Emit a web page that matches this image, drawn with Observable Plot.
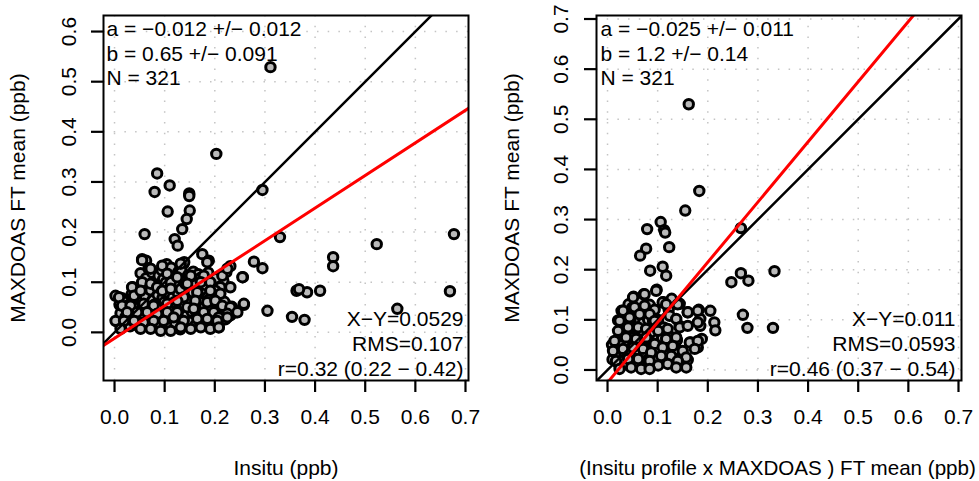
<!DOCTYPE html>
<html><head><meta charset="utf-8">
<script src="https://cdn.jsdelivr.net/npm/d3@7"></script>
<script src="https://cdn.jsdelivr.net/npm/@observablehq/plot@0.6"></script>
<style>
body{margin:0;background:#fff;}
#wrap{display:flex;width:979px;height:481px;overflow:hidden;}
#wrap svg{font-family:"Liberation Sans",Arial,Helvetica,sans-serif;}
</style></head><body><div id="wrap"></div>
<script>
// ---------- tick labels ----------
const xTicks = [0, 0.1, 0.2, 0.3, 0.4, 0.5, 0.6, 0.7];
const yTicksLeft = [0, 0.1, 0.2, 0.3, 0.4, 0.5, 0.6];
const yTicksRight = [0, 0.1, 0.2, 0.3, 0.4, 0.5, 0.6, 0.7];

// ---------- texts ----------
const leftStatsTop = ["a = \u22120.012 +/\u2212 0.012", "b = 0.65 +/\u2212 0.091", "N = 321"];
const leftStatsBottom = ["X\u2212Y=0.0529", "RMS=0.107", "r=0.32 (0.22 \u2212 0.42)"];
const rightStatsTop = ["a = \u22120.025 +/\u2212 0.011", "b = 1.2 +/\u2212 0.14", "N = 321"];
const rightStatsBottom = ["X\u2212Y=0.011", "RMS=0.0593", "r=0.46 (0.37 \u2212 0.54)"];
const leftXLabel = "Insitu (ppb)";
const rightXLabel = "(Insitu profile x MAXDOAS ) FT mean (ppb)";
const yLabel = "MAXDOAS FT mean (ppb)";

// ---------- fit parameters ----------
const leftFit = {a: -0.012, b: 0.65};
const rightFit = {a: -0.025, b: 1.2};

// ---------- points: [x, y] ----------
const leftPoints = [
  [0.311,0.529],[0.203,0.356],[0.085,0.317],[0.080,0.280],[0.110,0.293],[0.149,0.277],[0.149,0.272],
  [0.106,0.241],[0.150,0.243],[0.144,0.226],[0.135,0.206],[0.120,0.186],[0.126,0.173],[0.060,0.196],
  [0.295,0.284],[0.330,0.190],[0.278,0.141],[0.295,0.128],[0.231,0.132],[0.256,0.110],[0.436,0.150],
  [0.436,0.132],[0.523,0.176],[0.677,0.196],[0.669,0.082],[0.363,0.083],[0.384,0.080],[0.410,0.083],
  [0.368,0.086],[0.305,0.043],[0.354,0.031],[0.379,0.025],[0.564,0.047],[0.258,0.055],[0.175,0.156],
  [0.188,0.143],[0.137,0.136],[0.132,0.130],[0.055,0.146],[0.063,0.143],[0.098,0.130],[0.002,0.073],
  [0.005,0.022],[0.217,0.103],[0.208,0.010],[0.225,0.053],
  [0.008,0.022],[0.012,0.038],[0.010,0.055],[0.015,0.068],
  [0.020,0.016],[0.022,0.031],[0.024,0.047],[0.019,0.061],
  [0.031,0.012],[0.029,0.026],[0.033,0.041],[0.030,0.056],[0.034,0.076],[0.036,0.090],
  [0.041,0.017],[0.044,0.031],[0.039,0.050],[0.043,0.069],[0.046,0.086],
  [0.050,0.010],[0.053,0.024],[0.049,0.040],[0.055,0.061],[0.051,0.080],[0.056,0.099],[0.052,0.118],
  [0.062,0.016],[0.059,0.032],[0.064,0.050],[0.061,0.071],[0.066,0.090],[0.063,0.108],[0.068,0.128],
  [0.071,0.009],[0.074,0.026],[0.069,0.045],[0.076,0.065],[0.072,0.084],[0.078,0.101],[0.075,0.119],
  [0.081,0.015],[0.084,0.036],[0.079,0.055],[0.086,0.075],[0.083,0.094],[0.088,0.113],
  [0.091,0.011],[0.094,0.030],[0.089,0.050],[0.096,0.069],[0.092,0.089],[0.097,0.106],[0.094,0.124],
  [0.101,0.020],[0.104,0.041],[0.099,0.060],[0.106,0.080],[0.102,0.099],[0.108,0.118],[0.104,0.136],
  [0.111,0.010],[0.114,0.029],[0.109,0.049],[0.116,0.070],[0.112,0.090],[0.117,0.109],[0.113,0.129],
  [0.121,0.019],[0.124,0.040],[0.119,0.060],[0.126,0.079],[0.122,0.101],[0.127,0.120],
  [0.131,0.006],[0.134,0.026],[0.129,0.046],[0.136,0.064],[0.132,0.086],[0.137,0.104],[0.133,0.124],[0.139,0.140],
  [0.141,0.015],[0.144,0.034],[0.139,0.055],[0.146,0.075],[0.142,0.096],[0.147,0.114],
  [0.151,0.021],[0.154,0.041],[0.149,0.061],[0.156,0.080],[0.152,0.100],[0.157,0.121],
  [0.161,0.014],[0.164,0.035],[0.159,0.054],[0.166,0.076],[0.162,0.095],[0.167,0.116],
  [0.171,0.020],[0.174,0.040],[0.169,0.061],[0.176,0.086],[0.172,0.109],
  [0.181,0.016],[0.184,0.031],[0.179,0.050],[0.186,0.071],[0.182,0.094],[0.187,0.119],
  [0.191,0.026],[0.194,0.045],[0.189,0.066],[0.196,0.090],
  [0.201,0.021],[0.204,0.040],[0.199,0.059],[0.206,0.081],[0.202,0.108],
  [0.211,0.030],[0.214,0.050],[0.209,0.071],
  [0.221,0.026],[0.224,0.045],[0.219,0.061],[0.223,0.120],
  [0.231,0.034],[0.234,0.051],[0.242,0.040],
  [0.055,0.144],[0.072,0.127],[0.095,0.133],[0.105,0.117],[0.132,0.137],[0.152,0.113],[0.185,0.140],
  [0.178,0.113],[0.215,0.113],[0.225,0.127],[0.255,0.110],
  [0.035,0.090],[0.055,0.100],[0.072,0.097],[0.085,0.090],[0.112,0.100],[0.125,0.110],[0.145,0.097],
  [0.172,0.100],[0.191,0.100],[0.211,0.090],[0.201,0.083],
  [0.009,0.070],[0.039,0.073],[0.052,0.083],[0.095,0.083],[0.112,0.087],[0.138,0.070],[0.165,0.080],
  [0.191,0.083],[0.211,0.077],[0.231,0.090],[0.258,0.057],
  [0.015,0.053],[0.032,0.053],[0.058,0.057],[0.078,0.053],[0.105,0.057],[0.125,0.063],[0.145,0.050],
  [0.161,0.063],[0.185,0.060],[0.201,0.063],[0.215,0.053],[0.231,0.050],[0.245,0.040],
  [0.002,0.023],[0.025,0.040],[0.045,0.040],[0.065,0.040],[0.085,0.037],[0.105,0.040],[0.125,0.040],
  [0.158,0.047],[0.178,0.040],[0.198,0.040],[0.225,0.037],[0.208,0.030],
  [0.019,0.023],[0.039,0.023],[0.058,0.020],[0.078,0.023],[0.098,0.023],[0.118,0.030],[0.138,0.023],
  [0.165,0.027],[0.185,0.027],[0.205,0.023],[0.225,0.030],
  [0.012,0.007],[0.052,0.007],[0.072,0.007],[0.092,0.003],[0.112,0.003],[0.132,0.010],[0.152,0.007],
  [0.172,0.010],[0.191,0.007],[0.208,0.010]
];

const rightPoints = [
  [0.162,0.530],[0.183,0.357],[0.155,0.318],[0.079,0.281],[0.106,0.295],[0.113,0.279],[0.115,0.274],
  [0.123,0.245],[0.077,0.242],[0.065,0.228],[0.085,0.198],[0.110,0.206],[0.117,0.188],[0.266,0.283],
  [0.266,0.193],[0.281,0.178],[0.247,0.175],[0.333,0.197],[0.270,0.110],[0.279,0.084],[0.330,0.084],
  [0.098,0.160],[0.144,0.132],[0.128,0.142],[0.160,0.115],[0.182,0.120],[0.205,0.118],[0.213,0.095],
  [0.215,0.079],[0.185,0.102],[0.185,0.088],[0.144,0.088],[0.188,0.062],[0.166,0.055],[0.180,0.045],
  [0.160,0.020],[0.146,0.025],[0.138,0.059],
  [0.010,0.021],[0.013,0.036],[0.009,0.050],
  [0.020,0.015],[0.023,0.030],[0.019,0.046],[0.022,0.060],[0.021,0.099],
  [0.030,0.020],[0.033,0.035],[0.029,0.051],[0.032,0.066],[0.031,0.085],[0.028,0.118],
  [0.040,0.010],[0.043,0.025],[0.039,0.041],[0.042,0.056],[0.041,0.075],[0.044,0.095],[0.039,0.110],[0.042,0.131],
  [0.050,0.015],[0.053,0.030],[0.049,0.046],[0.052,0.065],[0.051,0.085],[0.054,0.105],[0.049,0.124],[0.052,0.146],
  [0.060,0.010],[0.063,0.026],[0.059,0.040],[0.062,0.060],[0.061,0.080],[0.064,0.100],[0.059,0.120],[0.062,0.140],
  [0.070,0.016],[0.073,0.035],[0.069,0.055],[0.072,0.075],[0.071,0.095],[0.074,0.115],[0.072,0.151],
  [0.080,0.020],[0.083,0.040],[0.079,0.060],[0.082,0.081],[0.081,0.100],[0.084,0.130],
  [0.090,0.015],[0.093,0.036],[0.089,0.055],[0.092,0.075],[0.091,0.096],[0.094,0.120],
  [0.100,0.020],[0.103,0.040],[0.099,0.061],[0.102,0.080],[0.101,0.100],
  [0.110,0.025],[0.113,0.045],[0.109,0.065],[0.112,0.085],[0.111,0.135],
  [0.120,0.030],[0.123,0.050],[0.119,0.070],[0.122,0.120],
  [0.130,0.025],[0.133,0.045],[0.129,0.065],
  [0.140,0.040],[0.138,0.060],
  [0.051,0.145],[0.074,0.151],[0.097,0.158],[0.054,0.125],[0.074,0.128],[0.110,0.135],[0.117,0.131],
  [0.140,0.131],[0.160,0.115],[0.180,0.118],[0.180,0.095],
  [0.031,0.118],[0.024,0.098],[0.044,0.105],[0.064,0.111],[0.084,0.111],[0.094,0.098],[0.124,0.108],
  [0.137,0.102],[0.144,0.085],[0.160,0.088],
  [0.021,0.078],[0.041,0.085],[0.061,0.085],[0.077,0.082],[0.101,0.078],[0.120,0.082],[0.117,0.062],
  [0.137,0.065],[0.164,0.055],[0.180,0.058],[0.174,0.042],
  [0.014,0.058],[0.037,0.065],[0.057,0.062],[0.077,0.065],[0.094,0.052],[0.110,0.045],[0.130,0.048],
  [0.150,0.038],[0.157,0.025],
  [0.011,0.038],[0.031,0.042],[0.051,0.045],[0.071,0.042],[0.087,0.035],[0.107,0.028],[0.127,0.028],
  [0.140,0.018],
  [0.017,0.018],[0.041,0.022],[0.061,0.022],[0.084,0.018],[0.101,0.009],[0.120,0.012],[0.137,0.005],
  [0.157,0.005],
  [0.024,0.002],[0.047,0.005],[0.067,0.002],[0.084,0.002]
];

const fmt = d3.format(".1f");
const FS = 21;

function panel(o) {
  const [x0, x1] = o.xDomain;
  const diag = [{x: x0, y: x0}, {x: x1, y: x1}];
  const fit = [{x: x0, y: o.fit.a + o.fit.b * x0}, {x: x1, y: o.fit.a + o.fit.b * x1}];
  return Plot.plot({
    width: o.width, height: 481,
    marginLeft: o.marginLeft, marginRight: o.marginRight, marginTop: 15, marginBottom: 101,
    x: {domain: o.xDomain},
    y: {domain: o.yDomain},
    style: {fontFamily: "'Liberation Sans', Arial, sans-serif", fontSize: FS + "px", color: "black", background: "white", overflow: "visible"},
    marks: [
      Plot.gridX(xTicks, {stroke: "#c4c4c4", strokeOpacity: 1, strokeWidth: 1.5, strokeDasharray: "1.5,9.2"}),
      Plot.gridY(o.yTicks, {stroke: "#c4c4c4", strokeOpacity: 1, strokeWidth: 1.5, strokeDasharray: "1.5,9.2"}),
      Plot.dot(o.points, {x: d => d[0], y: d => d[1], r: 4.7, fill: "#bababa", stroke: "black", strokeWidth: 3}),
      Plot.line(diag, {x: "x", y: "y", stroke: "black", strokeWidth: 2.5, clip: true}),
      Plot.line(fit, {x: "x", y: "y", stroke: "#ff0000", strokeWidth: 3, clip: true}),
      Plot.frame({stroke: "black", strokeWidth: 2}),
      Plot.axisX(xTicks, {tickSize: 12, strokeWidth: 2.2, tickPadding: 17, tickFormat: fmt, fontSize: FS, label: null}),
      Plot.axisY(o.yTicks, {tickSize: 12, strokeWidth: 2.2, tickRotate: -90, tickPadding: o.yPad, tickFormat: fmt, fontSize: FS, label: null}),
      Plot.text([o.top.join("\n")], {frameAnchor: "top-left", textAnchor: "start", lineAnchor: "top", lineHeight: 1.17, dx: o.topDx, dy: 3, fontSize: FS}),
      Plot.text([o.bottom.join("\n")], {frameAnchor: "bottom-right", textAnchor: "end", lineAnchor: "bottom", lineHeight: 1.17, dx: o.bottomDx, dy: -5, fontSize: FS}),
      Plot.text([o.xLabel], {frameAnchor: "bottom", textAnchor: "middle", lineAnchor: "middle", dx: o.xLabelDx, dy: 88, fontSize: o.xLabelSize}),
      Plot.text([yLabel], {frameAnchor: "left", textAnchor: "middle", lineAnchor: "middle", rotate: -90, dx: o.yLabelDx, fontSize: FS})
    ]
  });
}

const wrap = document.getElementById("wrap");
wrap.append(panel({
  width: 490, marginLeft: 103, marginRight: 22,
  xDomain: [-0.022, 0.706], yDomain: [-0.096, 0.632],
  yTicks: yTicksLeft, yPad: 16, points: leftPoints, fit: leftFit,
  top: leftStatsTop, bottom: leftStatsBottom, topDx: 3, bottomDx: -5,
  xLabel: leftXLabel, xLabelDx: 0, xLabelSize: FS, yLabelDx: -85
}));
wrap.append(panel({
  width: 489, marginLeft: 106, marginRight: 18,
  xDomain: [-0.022, 0.706], yDomain: [-0.021, 0.707],
  yTicks: yTicksRight, yPad: 17, points: rightPoints, fit: rightFit,
  top: rightStatsTop, bottom: rightStatsBottom, topDx: 4, bottomDx: -6,
  xLabel: rightXLabel, xLabelDx: -1.5, xLabelSize: 20.6, yLabelDx: -84
}));
</script></body></html>
